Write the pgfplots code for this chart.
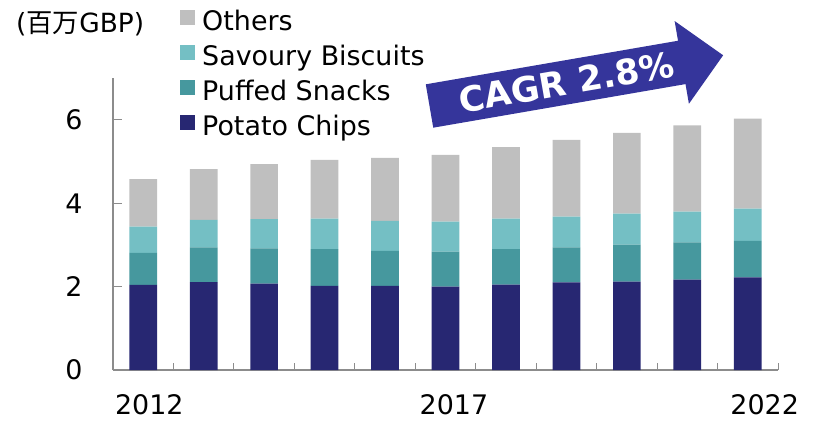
\documentclass[border=0pt]{standalone}
\usepackage{pgfplots}
\usepackage{pgfplotstable}
\pgfplotsset{compat=1.18}
\usepackage{fontspec}
\setmainfont{DejaVu Sans}
\newfontfamily\cjk{Noto Sans CJK JP}
\definecolor{chips}{HTML}{272772}
\definecolor{puffed}{HTML}{46989E}
\definecolor{savoury}{HTML}{74BFC4}
\definecolor{others}{HTML}{BFBFBF}
\definecolor{arrowblue}{HTML}{35359B}
\definecolor{axisgray}{HTML}{8C8C8C}

\pgfplotstableread{
x chips puffed savoury others
0  2.04 0.77 0.63 1.14
1  2.11 0.83 0.66 1.22
2  2.07 0.85 0.70 1.32
3  2.02 0.88 0.73 1.41
4  2.02 0.84 0.72 1.51
5  2.00 0.84 0.72 1.60
6  2.05 0.85 0.73 1.72
7  2.10 0.84 0.74 1.84
8  2.12 0.89 0.74 1.94
9  2.17 0.89 0.74 2.07
10 2.22 0.88 0.77 2.16
}\datatable

\begin{document}
\begin{tikzpicture}[x=1bp,y=1bp]
\useasboundingbox (0,0) rectangle (815,424);
\begin{axis}[
  at={(113bp,54bp)}, anchor=south west,
  scale only axis, width=665bp, height=291.7bp,
  xmin=-0.5, xmax=10.5, ymin=0, ymax=7,
  ybar stacked, bar width=27.7bp,
  axis lines*=left,
  axis line style={draw=axisgray, line width=1.2bp},
  tick align=inside,
  major tick length=9bp,
  minor tick length=7bp,
  tick style={draw=axisgray, line width=1bp},
  ytick={0,2,4,6},
  xtick={0.1,5.14,10.28},
  xticklabels={2012,2017,2022},
  minor xtick={-0.5,0.5,...,10.5},
  major x tick style={draw=none},
  /pgf/number format/assume math mode=true,
  ticklabel style={font=\fontsize{27}{30}\selectfont, text=black},
  xticklabel style={yshift=-21bp},
  yticklabel style={xshift=-27bp},
  reverse legend,
  legend cell align=left,
  legend image code/.code={\fill[#1] (0bp,1bp) rectangle (15bp,16bp);},
  legend style={at={(0.1008,1.241)}, anchor=north west, draw=none, fill=none,
    inner sep=0pt, row sep=0pt, column sep=0pt,
    font=\fontsize{27}{30}\selectfont,
    nodes={inner xsep=7bp, inner ysep=0pt, text height=22bp, text depth=13bp}},
]
\addplot+[fill=chips, draw=none] table[x=x, y=chips] {\datatable};
\addlegendentry{Potato Chips}
\addplot+[fill=puffed, draw=none] table[x=x, y=puffed] {\datatable};
\addlegendentry{Puffed Snacks}
\addplot+[fill=savoury, draw=none] table[x=x, y=savoury] {\datatable};
\addlegendentry{Savoury Biscuits}
\addplot+[fill=others, draw=none] table[x=x, y=others] {\datatable};
\addlegendentry{Others}
\end{axis}
\node[anchor=base west, inner sep=0pt, font=\fontsize{26.5}{28}\selectfont] at (16bp,391bp) {({\cjk 百万}GBP)};
\begin{scope}[shift={(429.5bp,318bp)}, rotate=9.8]
  \fill[arrowblue] (0,22) -- (256,22) -- (256,42) -- (298,0) -- (256,-42) -- (256,-22) -- (0,-22) -- cycle;
  \node[text=white, font=\bfseries\fontsize{35}{38}\selectfont, inner sep=0pt, rotate=9.8] at (139,0) {CAGR 2.8\%};
\end{scope}
\end{tikzpicture}
\end{document}
